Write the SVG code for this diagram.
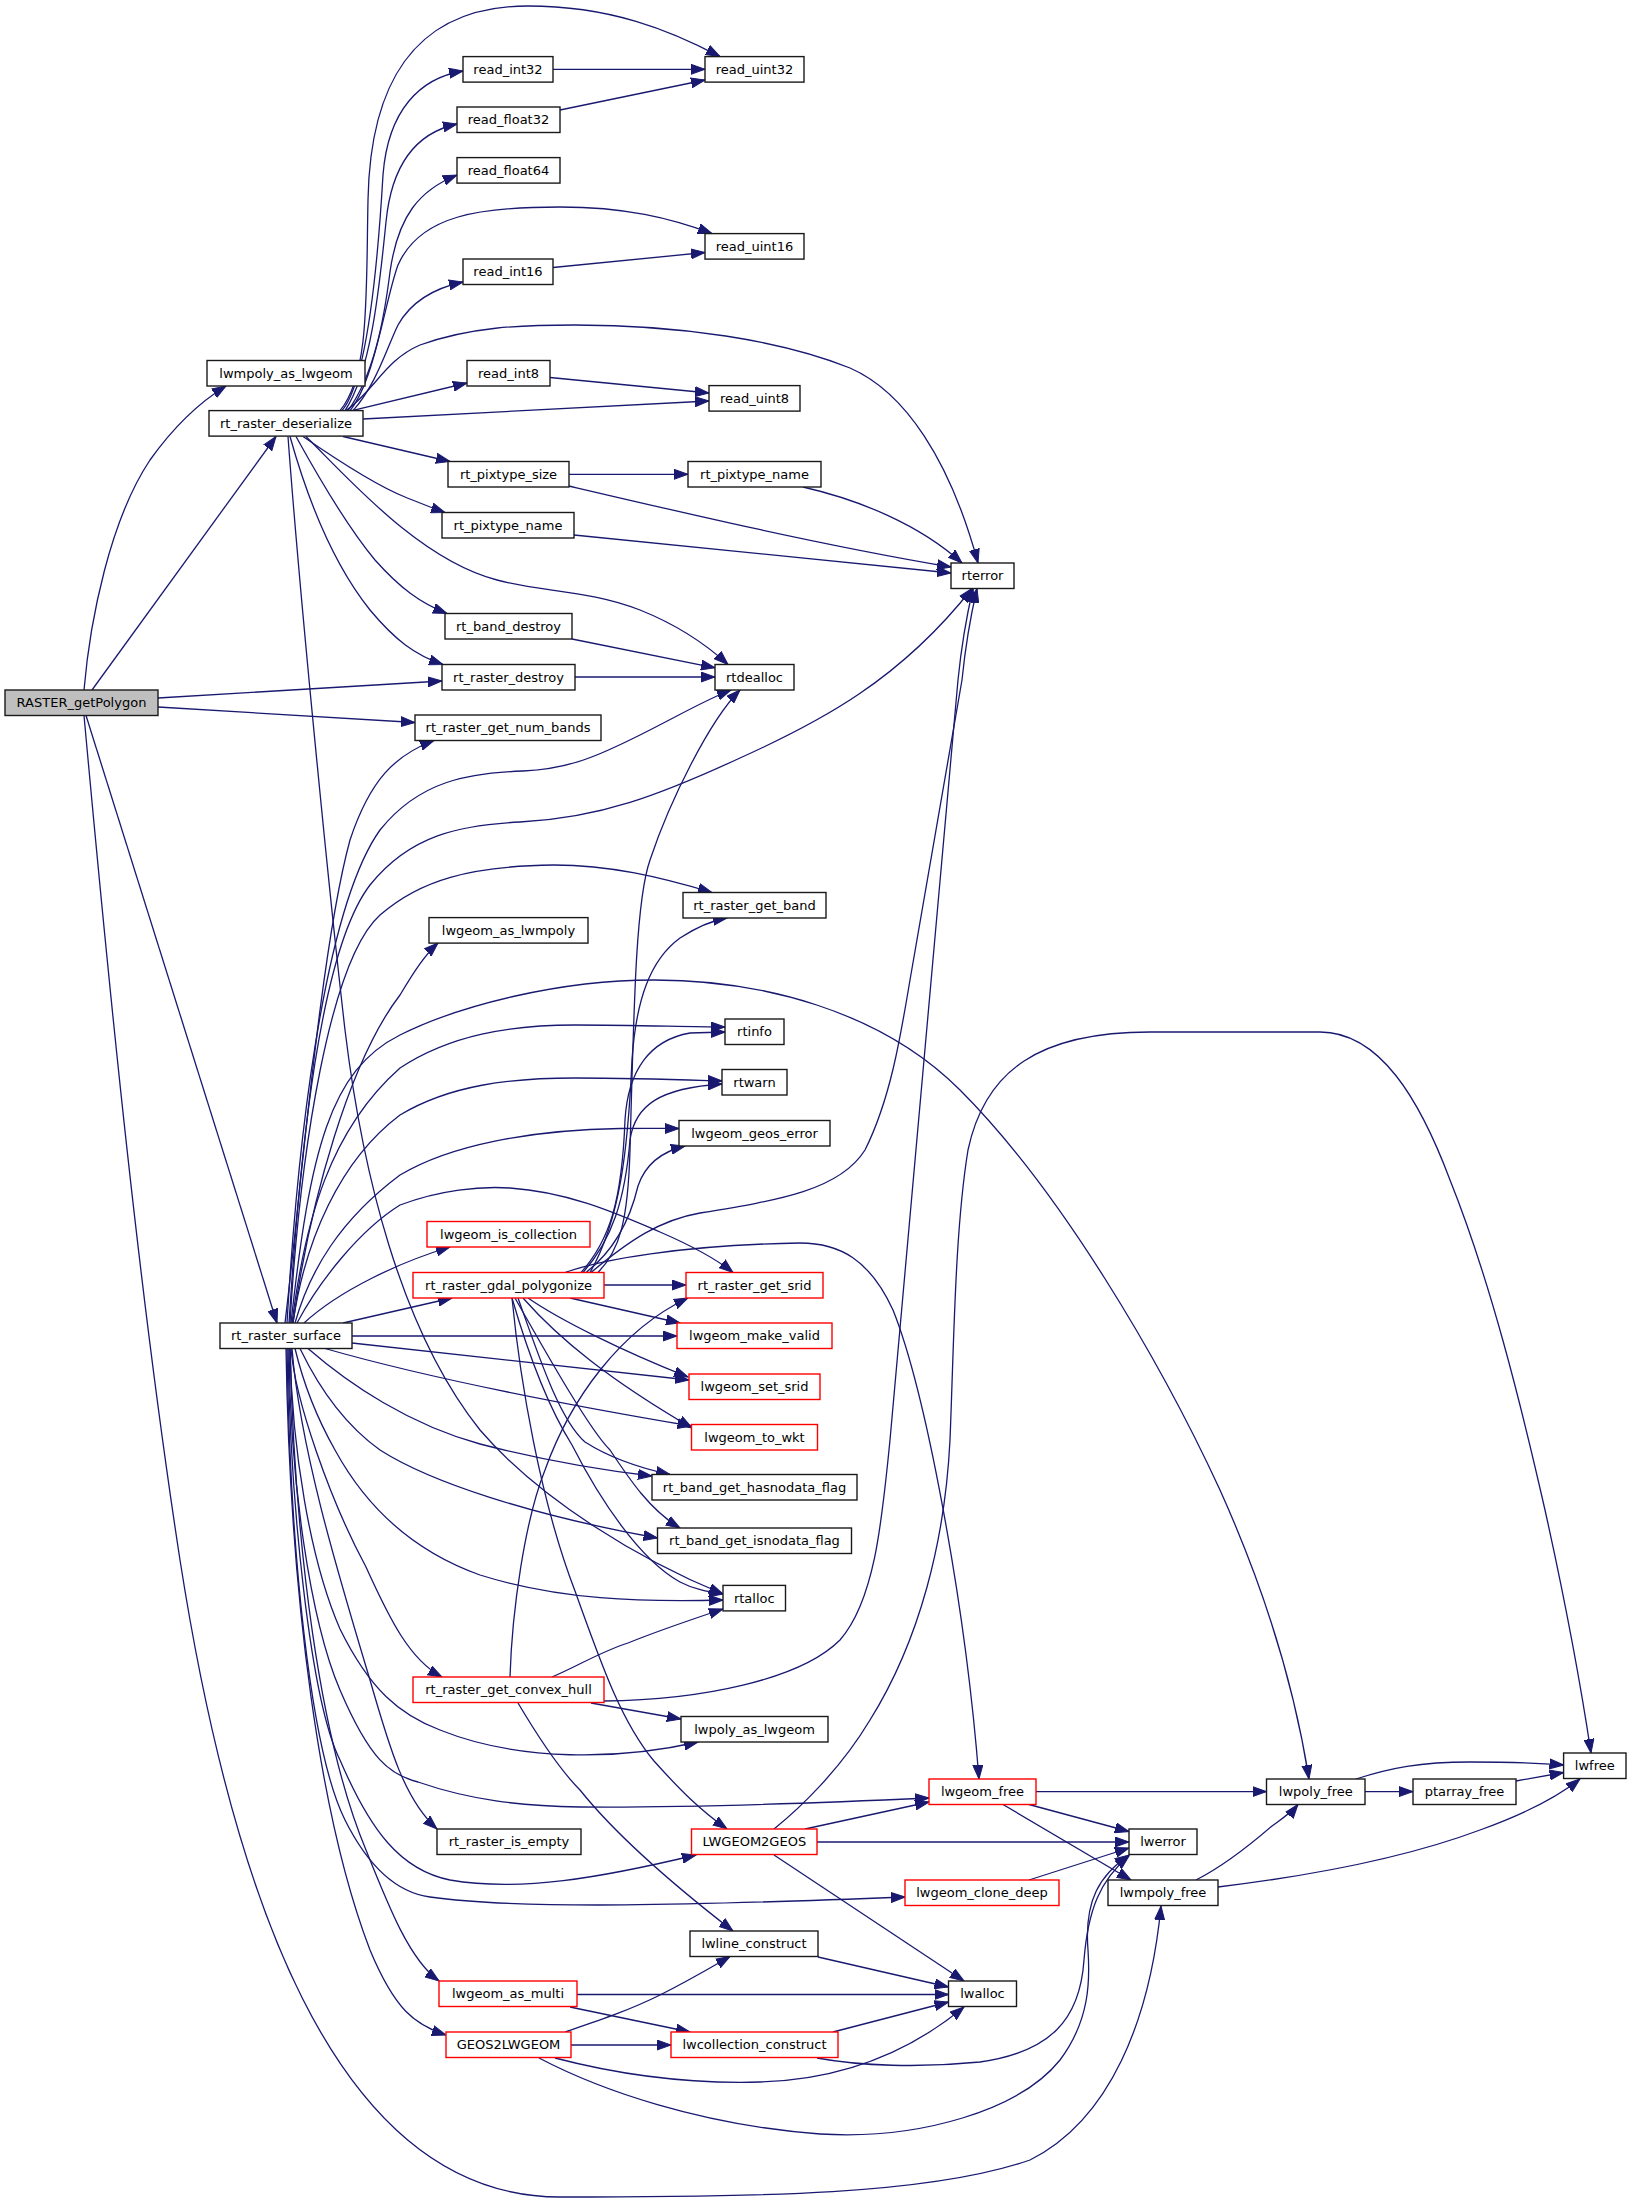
<svg xmlns="http://www.w3.org/2000/svg" width="1632" height="2207" viewBox="0 0 1632 2207">
<style>
.n rect{fill:#fff;stroke:#1a1a1a;stroke-width:1.4}
.r rect{stroke:#ff0000}
.root rect{fill:#bfbfbf}
text{font-family:"DejaVu Sans","Noto Sans",sans-serif;font-size:13px;text-anchor:middle;fill:#000}
.e path{fill:none;stroke:#191970;stroke-width:1.3;marker-end:url(#a)}
</style>
<defs>
<marker id="a" markerWidth="15" markerHeight="11" refX="14" refY="5.5" orient="auto" markerUnits="userSpaceOnUse">
<path d="M0,0.5 L14,5.5 L0,10.5 z" fill="#191970" stroke="#191970" stroke-width="1"/>
</marker>
</defs>
<rect x="0" y="0" width="1632" height="2207" fill="#fff"/>
<g class="e">
<path d="M84,690 C90,620 110,520 150,460 C175,425 200,402 226,386"/>
<path d="M92,690 L276,436.5"/>
<path d="M158,698 L442,681"/>
<path d="M158,707 L415,722.5"/>
<path d="M86,715.5 L277,1323"/>
<path d="M84,715.5 C110,1000 140,1300 180,1560 C230,1880 330,2197 560,2197 C760,2197 930,2195 1030,2160 C1110,2120 1150,2020 1161,1906"/>
<path d="M340,410.6 C370,375 366,290 368,200 C370,90 410,6 528,6 C610,6 670,30 720,56.6"/>
<path d="M342,410.6 C368,380 378,260 383,175 C388,110 420,78 463,71"/>
<path d="M345,410.6 C372,370 380,280 386,222 C392,160 420,132 457,124"/>
<path d="M348,410.6 C374,375 384,320 390,272 C398,215 420,190 457,175"/>
<path d="M350,410.6 C375,380 385,300 398,265 C420,215 480,207 560,207 C625,207 670,218 712,233.6"/>
<path d="M353,410.6 C376,385 386,350 398,325 C412,300 435,288 463,282"/>
<path d="M346,410.6 C375,390 385,360 420,345 C470,327 520,325 575,325 C680,325 780,340 850,368 C905,392 950,460 978,563"/>
<path d="M352,410.6 L467,383"/>
<path d="M363,419 L709,401"/>
<path d="M343,436.5 L450,461.5"/>
<path d="M303,436.5 C340,462 380,487 405,497 C420,503 432,508 445,512.5"/>
<path d="M306,436.5 C350,480 420,560 497,580 C540,592 590,590 640,610 C680,626 710,648 728,664.5"/>
<path d="M296,436.5 C320,480 350,530 375,560 C400,588 420,603 447,613.5"/>
<path d="M290,436.5 C305,490 330,560 370,610 C395,640 415,655 443,664.5"/>
<path d="M288,436.5 C300,600 330,900 345,1030 C362,1170 400,1330 480,1430 C540,1500 640,1560 723,1594"/>
<path d="M553,69.3 L705,69.3"/>
<path d="M560,110 L705,80"/>
<path d="M553,267.5 L705,252.5"/>
<path d="M550,377.5 L709,393"/>
<path d="M569,474.3 L688,474.3"/>
<path d="M569,486 C680,512 820,545 951,567"/>
<path d="M574,535 L951,573"/>
<path d="M803,487 C860,500 920,525 962,563"/>
<path d="M572,639 L715,667.8"/>
<path d="M575,677 L715,677"/>
<path d="M285,1323 C300,1200 320,950 350,840 C370,780 395,755 434,740.5"/>
<path d="M287,1323 C300,1100 330,900 380,830 C420,780 470,773 523,771 C570,769 600,755 640,735 C680,715 705,700 731,690"/>
<path d="M289,1323 C300,1150 320,950 370,885 C410,835 460,825 520,822 C600,818 660,795 740,758 C820,722 900,680 972,588.5"/>
<path d="M290,1323 C300,1150 330,960 380,915 C420,880 470,866 554,865 C610,865 660,877 712,892.5"/>
<path d="M293,1323 C310,1200 350,1060 400,995 C415,970 425,955 438,943"/>
<path d="M291,1323 C310,1150 330,1070 400,1035 C460,1005 560,980 654,980 C760,980 880,1010 960,1090 C1060,1190 1160,1360 1220,1490 C1265,1590 1295,1690 1309,1779"/>
<path d="M292,1323 C305,1220 330,1130 400,1068 C450,1035 510,1025 575,1025 C640,1025 685,1027 725,1027"/>
<path d="M293,1323 C305,1240 340,1160 400,1115 C450,1085 510,1078 575,1078 C640,1078 690,1080 722,1081"/>
<path d="M295,1323 C310,1270 340,1220 400,1175 C450,1145 530,1130 620,1128.5 C650,1128 665,1128.5 679,1128.5"/>
<path d="M297,1323 C320,1280 360,1230 400,1205 C440,1190 480,1186 510,1188 C570,1192 620,1215 660,1232 C690,1245 715,1258 733,1272.5"/>
<path d="M304,1323 C340,1290 400,1262 450,1247"/>
<path d="M343,1323 L452,1298"/>
<path d="M352,1336 L677,1336"/>
<path d="M352,1343 L689,1380"/>
<path d="M325,1348.5 C400,1370 520,1397 691.5,1426"/>
<path d="M308,1348.5 C350,1385 410,1425 480,1444 C550,1462 600,1470 652,1476"/>
<path d="M300,1348.5 C320,1390 345,1425 380,1450 C430,1482 530,1515 657.5,1538"/>
<path d="M295,1348.5 C305,1390 318,1420 335,1450 C365,1505 410,1550 480,1575 C560,1600 640,1602 723,1600"/>
<path d="M291,1348.5 C295,1400 330,1500 366,1567 C390,1620 410,1660 442,1677"/>
<path d="M290,1348.5 C292,1450 310,1560 340,1629 C370,1690 400,1715 440,1730 C520,1762 620,1760 698,1742"/>
<path d="M289,1348.5 C290,1480 310,1620 340,1690 C370,1760 390,1775 418,1782 C470,1800 520,1806 580,1807 C700,1808 820,1803 929,1798"/>
<path d="M292,1348.5 C300,1450 340,1580 370,1680 C390,1750 405,1800 437,1829"/>
<path d="M288,1348.5 C290,1500 310,1700 340,1760 C370,1830 400,1870 450,1880 C520,1892 600,1878 696,1855"/>
<path d="M287,1348.5 C290,1550 310,1750 345,1820 C370,1870 400,1893 430,1897 C520,1910 700,1905 905,1897"/>
<path d="M290,1348.5 C295,1550 320,1740 366,1850 C390,1910 410,1960 439,1981"/>
<path d="M286,1348.5 C290,1600 320,1820 370,1950 C395,2010 415,2025 446,2035"/>
<path d="M598,1272.5 C620,1250 628,1220 630,1150 C634,1000 636,900 650,860 C670,800 710,720 740,690"/>
<path d="M590,1272.5 C620,1220 628,1150 632,1060 C636,1000 650,960 680,938 C700,925 715,920 727,918"/>
<path d="M581,1272.5 C610,1240 622,1200 625,1120 C628,1070 650,1040 690,1033 L725,1032"/>
<path d="M583,1272.5 C612,1240 625,1200 630,1140 C635,1105 660,1088 722,1084"/>
<path d="M586,1272.5 C615,1250 630,1220 638,1186 C645,1165 660,1152 685,1146"/>
<path d="M591,1272.5 C630,1240 660,1220 700,1213 C780,1200 840,1190 865,1150 C890,1100 900,1040 910,980 L962,680 C966,640 972,610 977,588.5"/>
<path d="M565,1272.5 C600,1260 680,1245 800,1243 C840,1243 870,1260 893,1310 C925,1390 965,1600 979,1779"/>
<path d="M604,1285 L686,1285"/>
<path d="M570,1298 L680,1323"/>
<path d="M528,1298 C560,1320 620,1350 688,1377"/>
<path d="M523,1298 C560,1340 610,1380 692,1428"/>
<path d="M518,1298 C540,1360 560,1420 585,1442 C610,1458 640,1468 670,1474.5"/>
<path d="M515,1298 C550,1360 590,1430 610,1450 C630,1480 650,1510 680,1528"/>
<path d="M512,1298 C530,1360 550,1410 572,1445 C600,1500 640,1560 680,1582 C695,1590 710,1592 723,1594"/>
<path d="M512,1298 C520,1380 540,1500 575,1591 C600,1660 620,1720 654,1761 C680,1790 700,1810 727,1829"/>
<path d="M510,1677 C512,1610 525,1520 545,1470 C570,1400 620,1330 688,1298"/>
<path d="M552,1677 C580,1665 600,1652 628,1643 C660,1630 690,1620 723,1609"/>
<path d="M604,1701 C700,1700 800,1680 840,1640 C875,1600 882,1520 890,1440 L958,680 C962,640 968,610 973,588.5"/>
<path d="M591,1703 L681,1719"/>
<path d="M518,1703 C540,1740 560,1770 580,1790 C620,1840 680,1890 733,1931"/>
<path d="M1036,1791.6 L1266.5,1791.6"/>
<path d="M1029,1804.5 L1129,1831.5"/>
<path d="M1003,1804.5 L1131,1880"/>
<path d="M1365,1791.6 L1413,1791.6"/>
<path d="M1356,1779 C1390,1768 1420,1762 1470,1762 C1510,1762 1540,1763 1563.6,1765"/>
<path d="M1516,1781 L1563.6,1772.5"/>
<path d="M1196,1880 C1220,1868 1250,1845 1272,1826 C1283,1818 1292,1812 1298,1804.5"/>
<path d="M1218,1887 C1300,1877 1400,1860 1480,1830 C1530,1812 1560,1795 1580,1779"/>
<path d="M1029,1880 L1129,1848"/>
<path d="M805,1829 L929,1802"/>
<path d="M817,1842 L1129,1842"/>
<path d="M774,1855 L964,1981"/>
<path d="M774,1829 C800,1808 840,1770 870,1720 C920,1640 945,1540 950,1440 C954,1340 955,1230 968,1150 C985,1070 1040,1032 1150,1032 L1320,1032 C1380,1032 1420,1100 1450,1180 C1490,1280 1520,1400 1545,1510 C1565,1600 1580,1680 1591,1753"/>
<path d="M818,1957 L948.5,1987"/>
<path d="M577,1994.5 L948.5,1994.5"/>
<path d="M570,2007 L690,2032"/>
<path d="M565,2032 C600,2020 630,2010 660,1995 C690,1980 710,1968 730,1956.5"/>
<path d="M571,2045 L671,2045"/>
<path d="M555,2058 C620,2075 690,2084 760,2082 C830,2080 900,2060 964,2007"/>
<path d="M539,2058 C600,2090 700,2125 820,2134 C920,2140 1020,2110 1060,2060 C1090,2020 1090,1980 1088,1950 C1084,1900 1100,1875 1129,1855"/>
<path d="M833,2032 L948.5,2002"/>
<path d="M817,2058 C860,2066 920,2068 980,2062 C1050,2052 1080,2020 1084,1960 C1088,1910 1100,1880 1129,1856"/>
</g>
<g id="RASTER_getPolygon" class="n root"><rect x="5" y="690" width="153" height="25.5"/><text x="81.5" y="707.3">RASTER_getPolygon</text></g>
<g id="lwmpoly_as_lwgeom" class="n"><rect x="207" y="360.5" width="158" height="25.5"/><text x="286" y="377.8">lwmpoly_as_lwgeom</text></g>
<g id="rt_raster_deserialize" class="n"><rect x="209" y="410.6" width="154" height="25.5"/><text x="286" y="427.9">rt_raster_deserialize</text></g>
<g id="rt_raster_surface" class="n"><rect x="220" y="1323" width="132" height="25.5"/><text x="286" y="1340.3">rt_raster_surface</text></g>
<g id="read_int32" class="n"><rect x="463" y="56.6" width="90" height="25.5"/><text x="508" y="73.9">read_int32</text></g>
<g id="read_float32" class="n"><rect x="457" y="107" width="103" height="25.5"/><text x="508.5" y="124.3">read_float32</text></g>
<g id="read_float64" class="n"><rect x="457" y="157.6" width="103" height="25.5"/><text x="508.5" y="174.9">read_float64</text></g>
<g id="read_int16" class="n"><rect x="463" y="259" width="90" height="25.5"/><text x="508" y="276.3">read_int16</text></g>
<g id="read_int8" class="n"><rect x="467" y="360.5" width="83" height="25.5"/><text x="508.5" y="377.8">read_int8</text></g>
<g id="rt_pixtype_size" class="n"><rect x="448" y="461.5" width="121" height="25.5"/><text x="508.5" y="478.8">rt_pixtype_size</text></g>
<g id="rt_pixtype_name_a" class="n"><rect x="442" y="512.5" width="132" height="25.5"/><text x="508" y="529.8">rt_pixtype_name</text></g>
<g id="rt_band_destroy" class="n"><rect x="445" y="613.5" width="127" height="25.5"/><text x="508.5" y="630.8">rt_band_destroy</text></g>
<g id="rt_raster_destroy" class="n"><rect x="442" y="664.5" width="133" height="25.5"/><text x="508.5" y="681.8">rt_raster_destroy</text></g>
<g id="rt_raster_get_num_bands" class="n"><rect x="415" y="715" width="186" height="25.5"/><text x="508" y="732.3">rt_raster_get_num_bands</text></g>
<g id="lwgeom_as_lwmpoly" class="n"><rect x="429" y="917.6" width="159" height="25.5"/><text x="508.5" y="934.9">lwgeom_as_lwmpoly</text></g>
<g id="lwgeom_is_collection" class="n r"><rect x="427" y="1221.5" width="163" height="25.5"/><text x="508.5" y="1238.8">lwgeom_is_collection</text></g>
<g id="rt_raster_gdal_polygonize" class="n r"><rect x="413" y="1272.5" width="191" height="25.5"/><text x="508.5" y="1289.8">rt_raster_gdal_polygonize</text></g>
<g id="rt_raster_get_convex_hull" class="n r"><rect x="413" y="1677" width="191" height="25.5"/><text x="508.5" y="1694.3">rt_raster_get_convex_hull</text></g>
<g id="rt_raster_is_empty" class="n"><rect x="437" y="1829" width="144" height="25.5"/><text x="509" y="1846.3">rt_raster_is_empty</text></g>
<g id="lwgeom_as_multi" class="n r"><rect x="439" y="1981" width="138" height="25.5"/><text x="508" y="1998.3">lwgeom_as_multi</text></g>
<g id="GEOS2LWGEOM" class="n r"><rect x="446" y="2032" width="125" height="25.5"/><text x="508.5" y="2049.3">GEOS2LWGEOM</text></g>
<g id="read_uint32" class="n"><rect x="705" y="56.6" width="99" height="25.5"/><text x="754.5" y="73.9">read_uint32</text></g>
<g id="read_uint16" class="n"><rect x="705" y="233.6" width="99" height="25.5"/><text x="754.5" y="250.9">read_uint16</text></g>
<g id="read_uint8" class="n"><rect x="709" y="385.6" width="91" height="25.5"/><text x="754.5" y="402.9">read_uint8</text></g>
<g id="rt_pixtype_name_b" class="n"><rect x="688" y="461.5" width="133" height="25.5"/><text x="754.5" y="478.8">rt_pixtype_name</text></g>
<g id="rtdealloc" class="n"><rect x="715" y="664.5" width="79" height="25.5"/><text x="754.5" y="681.8">rtdealloc</text></g>
<g id="rt_raster_get_band" class="n"><rect x="683" y="892.5" width="143" height="25.5"/><text x="754.5" y="909.8">rt_raster_get_band</text></g>
<g id="rtinfo" class="n"><rect x="725" y="1019" width="59" height="25.5"/><text x="754.5" y="1036.3">rtinfo</text></g>
<g id="rtwarn" class="n"><rect x="722" y="1069.5" width="65" height="25.5"/><text x="754.5" y="1086.8">rtwarn</text></g>
<g id="lwgeom_geos_error" class="n"><rect x="679" y="1120.5" width="151" height="25.5"/><text x="754.5" y="1137.8">lwgeom_geos_error</text></g>
<g id="rt_raster_get_srid" class="n r"><rect x="686" y="1272.5" width="137" height="25.5"/><text x="754.5" y="1289.8">rt_raster_get_srid</text></g>
<g id="lwgeom_make_valid" class="n r"><rect x="677" y="1323" width="155" height="25.5"/><text x="754.5" y="1340.3">lwgeom_make_valid</text></g>
<g id="lwgeom_set_srid" class="n r"><rect x="689" y="1374" width="131" height="25.5"/><text x="754.5" y="1391.3">lwgeom_set_srid</text></g>
<g id="lwgeom_to_wkt" class="n r"><rect x="691.5" y="1424.5" width="126" height="25.5"/><text x="754.5" y="1441.8">lwgeom_to_wkt</text></g>
<g id="rt_band_get_hasnodata_flag" class="n"><rect x="652" y="1474.5" width="205" height="25.5"/><text x="754.5" y="1491.8">rt_band_get_hasnodata_flag</text></g>
<g id="rt_band_get_isnodata_flag" class="n"><rect x="657.5" y="1528" width="194" height="25.5"/><text x="754.5" y="1545.3">rt_band_get_isnodata_flag</text></g>
<g id="rtalloc" class="n"><rect x="723" y="1585.4" width="62.5" height="25.5"/><text x="754.3" y="1602.7">rtalloc</text></g>
<g id="lwpoly_as_lwgeom" class="n"><rect x="681" y="1716.5" width="147" height="25.5"/><text x="754.5" y="1733.8">lwpoly_as_lwgeom</text></g>
<g id="LWGEOM2GEOS" class="n r"><rect x="691.5" y="1829" width="125.5" height="25.5"/><text x="754.3" y="1846.3">LWGEOM2GEOS</text></g>
<g id="lwline_construct" class="n"><rect x="690" y="1931" width="128" height="25.5"/><text x="754" y="1948.3">lwline_construct</text></g>
<g id="lwcollection_construct" class="n r"><rect x="671" y="2032" width="167" height="25.5"/><text x="754.5" y="2049.3">lwcollection_construct</text></g>
<g id="rterror" class="n"><rect x="951" y="563" width="63" height="25.5"/><text x="982.5" y="580.3">rterror</text></g>
<g id="lwgeom_free" class="n r"><rect x="929" y="1779" width="107" height="25.5"/><text x="982.5" y="1796.3">lwgeom_free</text></g>
<g id="lwgeom_clone_deep" class="n r"><rect x="905" y="1880" width="154" height="25.5"/><text x="982" y="1897.3">lwgeom_clone_deep</text></g>
<g id="lwalloc" class="n"><rect x="948.5" y="1981" width="68" height="25.5"/><text x="982.5" y="1998.3">lwalloc</text></g>
<g id="lwerror" class="n"><rect x="1129" y="1829" width="68" height="25.5"/><text x="1163" y="1846.3">lwerror</text></g>
<g id="lwmpoly_free" class="n"><rect x="1108" y="1880" width="110" height="25.5"/><text x="1163" y="1897.3">lwmpoly_free</text></g>
<g id="lwpoly_free" class="n"><rect x="1266.5" y="1779" width="98.5" height="25.5"/><text x="1315.8" y="1796.3">lwpoly_free</text></g>
<g id="ptarray_free" class="n"><rect x="1413" y="1779" width="103" height="25.5"/><text x="1464.5" y="1796.3">ptarray_free</text></g>
<g id="lwfree" class="n"><rect x="1563.6" y="1753" width="62.4" height="25.5"/><text x="1594.8" y="1770.3">lwfree</text></g>
</svg>
